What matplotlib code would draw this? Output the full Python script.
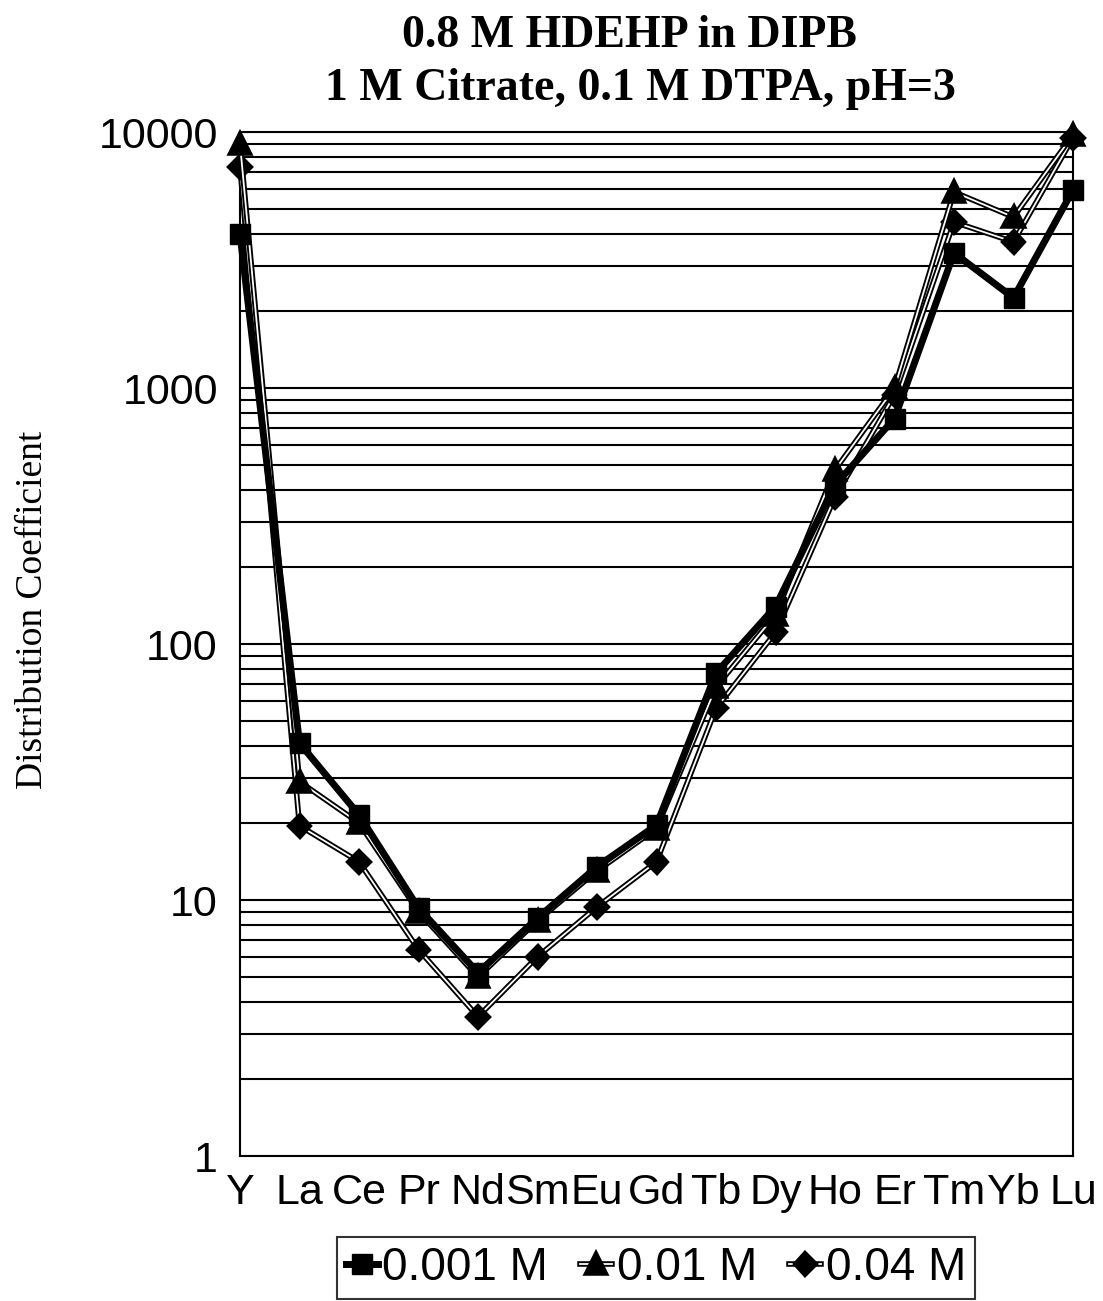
import matplotlib
matplotlib.use("Agg")
import matplotlib.pyplot as plt
import matplotlib.patheffects as pe
from matplotlib.ticker import LogLocator, FixedLocator, NullFormatter

elements = ["Y", "La", "Ce", "Pr", "Nd", "Sm", "Eu", "Gd", "Tb", "Dy", "Ho", "Er", "Tm", "Yb", "Lu"]
d_0001 = [4000, 41, 21.5, 9.3, 5.2, 8.5, 13.5, 19.6, 77, 140, 418, 760, 3370, 2250, 5930]
d_001 = [9000, 29, 20, 9.0, 5.0, 8.3, 13.0, 19.0, 68, 130, 479, 1000, 5830, 4650, 9730]
d_004 = [7300, 19.5, 14.1, 6.4, 3.5, 6.0, 9.4, 14.1, 56, 111, 375, 940, 4450, 3720, 9500]
labels = ["0.001 M", "0.01 M", "0.04 M"]
yticks = [1, 10, 100, 1000, 10000]

fig = plt.figure(figsize=(11.03, 13.01), dpi=100)
ax = fig.add_axes([240/1103, 1 - 1156/1301, (1073-240)/1103, (1156-132)/1301])
ax.set_yscale("log")
ax.set_ylim(1, 10000)
x = list(range(len(elements)))
ax.set_xlim(0, len(elements) - 1)

ax.yaxis.set_major_locator(FixedLocator(yticks))
ax.yaxis.set_minor_locator(LogLocator(base=10, subs=range(2, 10)))
ax.yaxis.set_minor_formatter(NullFormatter())
ax.set_yticklabels([str(v) for v in yticks])
ax.grid(True, which="both", axis="y", color="black", linewidth=1.5)
ax.set_axisbelow(True)
ax.set_xticks(x)
ax.set_xticklabels(elements)
ax.tick_params(axis="both", which="both", length=0, colors="black")
ax.tick_params(axis="y", pad=16)
ax.tick_params(axis="x", pad=12)
for lab in ax.get_xticklabels() + ax.get_yticklabels():
    lab.set_fontfamily("Liberation Sans")
    lab.set_fontsize(31)
for s in ax.spines.values():
    s.set_color("black")
    s.set_linewidth(1.5)

hollow = [pe.Stroke(linewidth=4.0, foreground="black"), pe.Normal()]
ax.plot(x, d_004, color="white", linewidth=1.3, marker="D", markersize=10,
        markerfacecolor="black", markeredgecolor="black", path_effects=hollow,
        clip_on=False, label=labels[2], zorder=3)
ax.plot(x, d_001, color="white", linewidth=1.3, marker="^", markersize=13,
        markerfacecolor="black", markeredgecolor="black", path_effects=hollow,
        clip_on=False, label=labels[1], zorder=4)
ax.plot(x, d_0001, color="black", linewidth=5, marker="s", markersize=15,
        markerfacecolor="black", markeredgecolor="black",
        clip_on=False, label=labels[0], zorder=5)

ax.set_ylabel("Distribution Coefficient", fontfamily="Liberation Serif", fontsize=27)
ax.yaxis.set_label_coords((50 - 240) / 833, (1156 - 610) / 1024)

fig.text(0.571, 1 - 36/1301, "0.8 M HDEHP in DIPB", ha="center", va="center",
         fontfamily="Liberation Serif", fontweight="bold", fontsize=33)
fig.text(0.581, 1 - 89/1301, "1 M Citrate, 0.1 M DTPA, pH=3", ha="center", va="center",
         fontfamily="Liberation Serif", fontweight="bold", fontsize=33)

h, l = ax.get_legend_handles_labels()
order = [2, 1, 0]
leg = fig.legend([h[i] for i in order], [l[i] for i in order], ncol=3, loc="center",
                 bbox_to_anchor=(656/1103, 1 - 1268/1301), frameon=True, fancybox=False,
                 edgecolor="black", prop={"family": "Liberation Sans", "size": 33},
                 handlelength=0.7, handletextpad=0.1, columnspacing=0.7, borderpad=0.2)
leg.get_frame().set_linewidth(1.5)

fig.savefig("out.png", dpi=100, facecolor="white")
